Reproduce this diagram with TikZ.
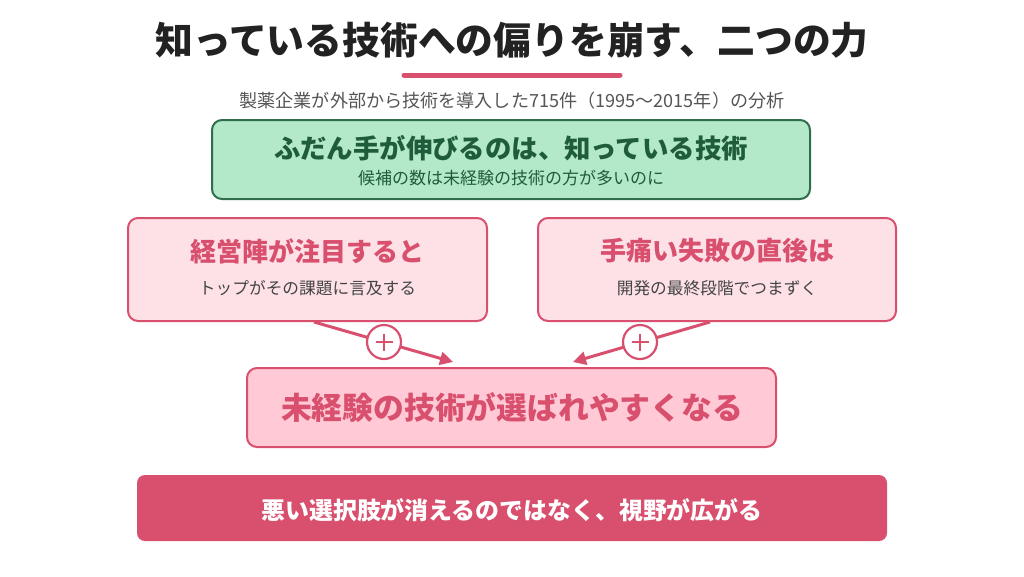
\documentclass[tikz,border=0pt]{standalone}
\usepackage{fontspec}
\setmainfont{Noto Sans CJK JP}
\usetikzlibrary{arrows.meta,calc}
\definecolor{pinkline}{HTML}{D94F6E}
\definecolor{pinkfill}{HTML}{FDE1E7}
\definecolor{pinkmid}{HTML}{FFC9D5}
\definecolor{greenfill}{HTML}{B3E8C9}
\definecolor{greenline}{HTML}{2F6E4C}
\definecolor{greentext}{HTML}{1F5C3B}
\definecolor{titlegray}{HTML}{222222}
\definecolor{subgray}{HTML}{555555}
\definecolor{bodygray}{HTML}{444444}
\tikzset{
  box/.style={draw, rounded corners=10pt, line width=2pt, inner sep=0pt},
  pinkbox/.style={box, draw=pinkline, fill=pinkfill},
  conn/.style={draw=pinkline, line width=3pt, -{Triangle[length=13pt,width=13pt]}},
  plus/.style={circle, draw=pinkline, fill=white, line width=2.2pt, minimum size=34pt, inner sep=0pt},
}
\begin{document}
\begin{tikzpicture}[x=1pt,y=-1pt]
\useasboundingbox (0,0) rectangle (1024,576);
% title
\node[font=\bfseries\fontsize{37.8}{40}\selectfont, text=titlegray] (title) at (512,40) {知っている技術への偏りを崩す、二つの力};
\draw[pinkline, line width=5pt, line cap=round] (404,75) -- (620,75);
\node[font=\fontsize{18.1}{20}\selectfont, text=subgray] (sub) at (512,101) {製薬企業が外部から技術を導入した715件（1995〜2015年）の分析};
% green box
\path[box, draw=greenline, fill=greenfill] (212,120) rectangle (810,199);
\node[font=\bfseries\fontsize{26.4}{28}\selectfont, text=greentext] (gtitle) at (511,148) {ふだん手が伸びるのは、知っている技術};
\node[font=\fontsize{17}{19}\selectfont, text=greentext] (gsub) at (511,178) {候補の数は未経験の技術の方が多いのに};
% left box
\node[pinkbox, minimum width=359pt, minimum height=103pt] (left) at (307.5,269.5) {};
\node[font=\bfseries\fontsize{26}{28}\selectfont, text=pinkline] (ltitle) at (307.5,251) {経営陣が注目すると};
\node[font=\fontsize{16.7}{18}\selectfont, text=bodygray] (lsub) at (307.5,288) {トップがその課題に言及する};
% right box
\node[pinkbox, minimum width=358pt, minimum height=103pt] (right) at (717,269.5) {};
\node[font=\bfseries\fontsize{26}{28}\selectfont, text=pinkline] (rtitle) at (717,251) {手痛い失敗の直後は};
\node[font=\fontsize{16.7}{18}\selectfont, text=bodygray] (rsub) at (717,288) {開発の最終段階でつまずく};
% middle box
\node[pinkbox, fill=pinkmid, minimum width=529pt, minimum height=79pt] (mid) at (511.5,407.5) {};
\node[font=\bfseries\fontsize{30.8}{33}\selectfont, text=pinkline] (mtitle) at (512,407) {未経験の技術が選ばれやすくなる};
% connectors
\coordinate (ls) at (314,322);
\coordinate (le) at (453,362);
\coordinate (rs) at (710,322);
\coordinate (re) at (573,362);
\draw[conn] (ls) -- (le);
\draw[conn] (rs) -- (re);
\node[plus] (lp) at (384,342) {};
\node[plus] (rp) at (640,342) {};
\draw[pinkline, line width=2pt] ($(lp)+(-8.5,0)$) -- ($(lp)+(8.5,0)$) ($(lp)+(0,-8.5)$) -- ($(lp)+(0,8.5)$);
\draw[pinkline, line width=2pt] ($(rp)+(-8.5,0)$) -- ($(rp)+(8.5,0)$) ($(rp)+(0,-8.5)$) -- ($(rp)+(0,8.5)$);
% bottom box
\node[fill=pinkline, rounded corners=8pt, minimum width=750pt, minimum height=66pt] (bottom) at (512,508) {};
\node[font=\bfseries\fontsize{23.9}{26}\selectfont, text=white] (btext) at (512,510) {悪い選択肢が消えるのではなく、視野が広がる};
\end{tikzpicture}
\end{document}
